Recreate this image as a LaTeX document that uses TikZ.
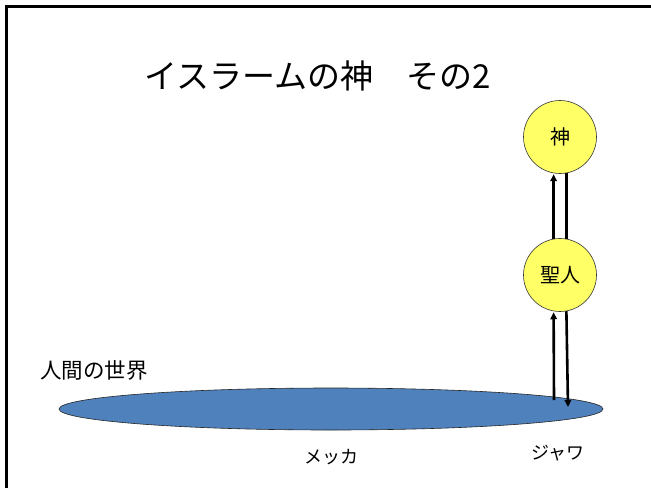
\documentclass[tikz,border=0pt]{standalone}
\usepackage{fontspec}
\setmainfont{Noto Sans CJK JP}
\usetikzlibrary{arrows.meta,shapes.geometric}
\definecolor{worldblue}{HTML}{4F81BD}
\definecolor{holyyellow}{HTML}{FFFF66}
\tikzset{
  holy/.style={circle, draw=black!80, line width=0.6pt, fill=holyyellow, minimum size=73pt, inner sep=0pt, font=\fontsize{20}{24}\selectfont},
  link/.style={line width=2.6pt, draw=black},
  linkarrow/.style={link, -{Triangle[length=7pt,width=6.5pt]}},
  lbl/.style={inner sep=0pt, font=\fontsize{18}{21}\selectfont},
}
\begin{document}
\begin{tikzpicture}[x=1pt,y=-1pt]
\useasboundingbox (0,0) rectangle (651,488);
\fill[white] (0,0) rectangle (651,488);
\draw[line width=2.8pt] (6.5,488) -- (6.5,6.5) -- (651,6.5);
\node[inner sep=0pt, font=\fontsize{33}{38}\selectfont] (title) at (318,76) {イスラームの神　その2};
\node[ellipse, draw=black!85, line width=0.6pt, fill=worldblue, minimum width=544pt, minimum height=42pt, inner sep=0pt] (world) at (331,409) {};
\node[holy] (kami) at (560,137) {神};
\node[holy] (sei) at (560,275) {聖人};
\node[lbl, font=\fontsize{21.5}{25}\selectfont, anchor=west] (human) at (40,370) {人間の世界};
\node[lbl] (mecca) at (331,457) {メッカ};
\node[lbl] (java) at (558,453) {ジャワ};
\coordinate (upstart) at (554,400);
\coordinate (downend) at (568,407);
\draw[linkarrow, shorten >=1pt] (sei.100) -- (kami.260);
\draw[link] (kami.280) -- (sei.80);
\draw[linkarrow, shorten >=1pt] (upstart) -- (sei.260);
\draw[linkarrow] (sei.280) -- (downend);
\end{tikzpicture}
\end{document}
